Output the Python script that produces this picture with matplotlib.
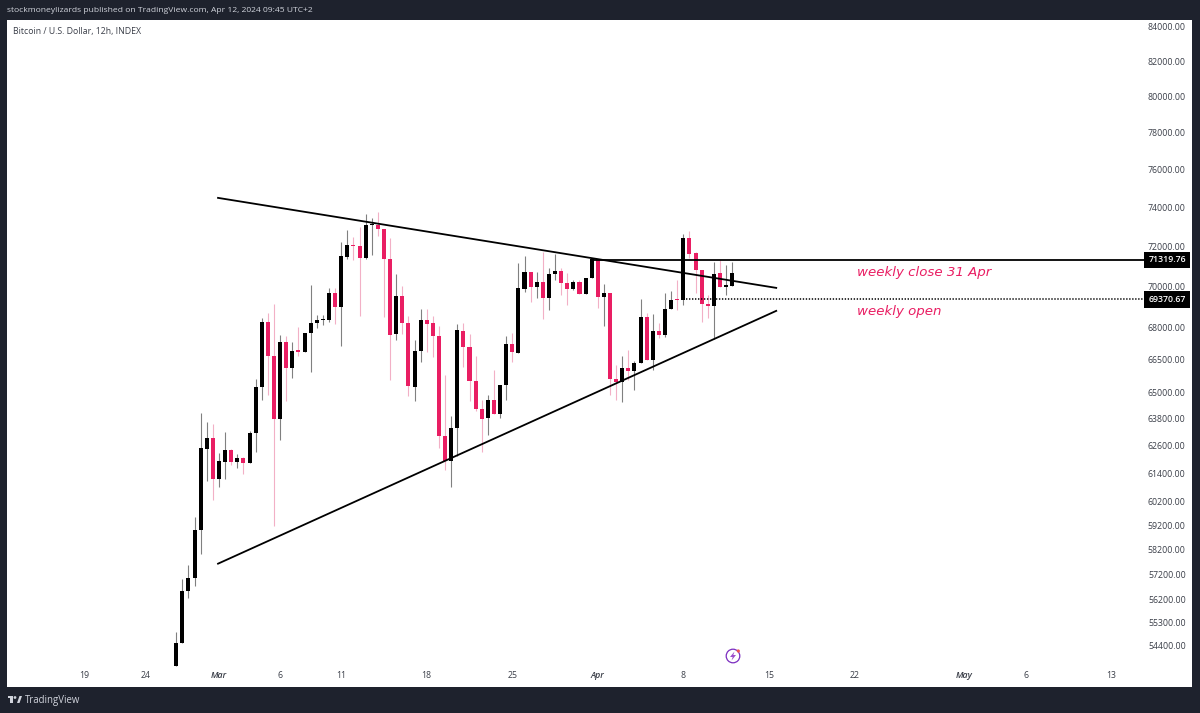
#!/bin/env python

import numpy as np
import matplotlib
matplotlib.use('Agg')
from matplotlib import pyplot as plt
from matplotlib.patches import Circle, Polygon, Rectangle

plt.rcParams['font.family'] = ['Open Sans', 'DejaVu Sans']

# 12h candles, first one is Feb 27 12:00 (bar 0 = Mar 1 00:00)
first_bar = -7
opens = [53640,54500,56510,57040,58980,62470,62930,61160,61900,62420,
         61900,62040,61840,63150,65240,68300,66680,63790,67320,66100,
         66930,66850,67750,68230,68390,68390,69680,69000,71480,72096,
         72046,71411,73110,73104,72880,71375,67700,69530,68250,65240,
         66900,68378,68210,67620,63030,61950,63370,67870,67090,65500,
         64230,63820,64640,64000,65340,67243,66830,69870,70720,70000,
         70230,69450,70620,70790,70194,69880,70230,69630,70410,71360,
         69513,69707,65604,65480,66101,65974,66340,68539,66477,67854,
         67680,68914,69386,69367,72419,71660,70821,69143,69045,70670,
         70000,70050]
highs = [54910,57000,57580,59540,64050,63640,63550,62280,63200,62450,
         62216,62102,63267,65604,68461,68704,69157,67666,67619,67304,
         68056,67760,70065,68621,68620,69950,69922,72232,72837,72469,
         72973,73643,73477,73744,72880,72419,70619,70048,68587,67431,
         68899,68913,68573,68104,65786,63938,68169,68217,67713,66679,
         64651,64878,66018,65346,67619,67774,71189,71542,70735,70735,
         71713,70907,71612,70907,70655,70326,70326,70409,71426,71360,
         70107,69707,66256,66679,66928,66444,69401,68704,68656,68247,
         69678,69805,70326,72620,72787,71713,70821,69596,71209,71325,
         71073,71239]
lows = [53640,54500,56240,56740,58000,61070,60270,60810,61160,61765,
        61634,61384,61840,62304,64650,64878,59170,62860,64592,65636,
        66646,66850,65941,67981,68135,68295,68183,67116,71360,71325,
        68573,71360,71562,72535,68539,65551,67431,67713,64801,64574,
        66411,66834,66618,62496,61546,60819,62129,66148,64574,64120,
        62304,63048,64000,63847,64650,66411,66830,69756,69269,69464,
        68412,68865,70326,69596,69109,69839,69630,69630,70409,68948,
        68100,64846,64651,64547,65551,65105,66340,66477,66021,67511,
        67586,68914,68865,69109,71411,69678,68266,68461,67478,70000,
        69596,70050]
closes = [54500,56530,57040,58980,62480,62930,61160,61910,62420,61900,
          62041,61839,63153,65255,68295,66679,63788,67323,66101,66914,
          66853,67760,68217,68378,68420,69678,69011,71511,72081,72015,
          71411,73089,73140,72872,71375,67680,69532,68247,65273,66914,
          68378,68197,67605,63035,61910,63372,67901,67088,65500,64229,
          63802,64637,64002,65346,67210,66834,69922,70720,69999,70230,
          69449,70619,70786,70194,69902,70230,69630,70409,71375,69513,
          69707,65604,65455,66101,65974,66350,68539,66477,67854,67680,
          68914,69367,69352,72419,71643,70821,69143,69045,70619,70000,
          70060,70685]

price_ticks = [84000,82000,80000,78000,76000,74000,72000,70000,68000,66500,65000,63800,62600,61400,60200,59200,58200,57200,56200,55300,54400]
time_bars = [-22,-12,0,10,20,34,48,62,76,90,104,122,132,146]
time_labels = ['19','24','Mar','6','11','18','25','Apr','8','15','22','May','6','13']
month_labels = ['Mar','Apr','May']

upper_bars = [-0.16, 91.2]
upper_prices = [74500, 69936]
lower_bars = [-0.16, 91.2]
lower_prices = [57620, 68816]
weekly_close = 71319.76
weekly_open = 69370.67
close_start_bar = 61.0
open_start_bar = 76.0

DARK = '#1e222d'
PINK = '#e91e63'
PINK_WICK = '#f2b0c6'
BLACK_WICK = '#808080'

bars = first_bar + np.arange(len(opens))
o = np.array(opens, float)
h = np.array(highs, float)
l = np.array(lows, float)
c = np.array(closes, float)
up = c >= o

fig = plt.figure(figsize=(12, 7.13), dpi=100, facecolor=DARK)
ax = fig.add_axes([7/1200, 1-686.7/713, 1185/1200, 666.7/713], facecolor='white')
ax.set_yscale('log')

ax.vlines(bars[up], l[up], h[up], color=BLACK_WICK, lw=0.8, zorder=2)
ax.vlines(bars[~up], l[~up], h[~up], color=PINK_WICK, lw=0.8, zorder=2)
body_lo = np.minimum(o, c)
body_hi = np.maximum(o, c)
ax.bar(bars, body_hi-body_lo, bottom=body_lo, width=0.66,
       color=['black' if u else PINK for u in up], linewidth=0, zorder=3)

ax.plot(upper_bars, upper_prices, color='black', lw=1.3, zorder=4)
ax.plot(lower_bars, lower_prices, color='black', lw=1.3, zorder=4)

ax.set_xlim(-34.7, 159.25)
ax.set_ylim(52850, 84414)

ax.plot([close_start_bar, 151.5], [weekly_close, weekly_close], color='black', lw=1.3, zorder=4)
ax.plot([open_start_bar, 151.5], [weekly_open, weekly_open], color='black', lw=1.1,
        linestyle=(0, (0.9, 1.06)), zorder=4)

ax.yaxis.tick_right()
ax.set_yticks(price_ticks)
ax.set_yticklabels(['%.2f' % p for p in price_ticks])
ax.yaxis.set_minor_locator(matplotlib.ticker.NullLocator())
ax.tick_params(axis='y', length=0, pad=-4.5, labelsize=6.3, labelcolor='#3a3e48')
for t in ax.get_yticklabels():
    t.set_ha('right')

ax.set_xticks(time_bars)
ax.set_xticklabels(time_labels)
ax.tick_params(axis='x', length=0, pad=-11, labelsize=6.3, labelcolor='#3a3e48')
for t in ax.get_xticklabels():
    if t.get_text() in month_labels:
        t.set_fontstyle('italic')
        t.set_fontweight('semibold')

for s in ax.spines.values():
    s.set_visible(False)

# price badges on the right
for val in (weekly_close, weekly_open):
    ax.text(0.979, val, '%.2f' % val, transform=ax.get_yaxis_transform(), ha='center', va='center',
            color='white', fontsize=6.3, fontweight='semibold', zorder=6,
            bbox=dict(boxstyle='square,pad=0.45', fc='black', ec='none'))

ax.text(104.4, 70700, 'weekly close 31 Apr', color=PINK, fontsize=9.6, style='italic', va='center', ha='left',
        family='DejaVu Sans', zorder=5)
ax.text(104.4, 68800, 'weekly open', color=PINK, fontsize=9.6, style='italic', va='center', ha='left',
        family='DejaVu Sans', zorder=5)
ax.text(0.005, 0.9835, 'Bitcoin / U.S. Dollar, 12h, INDEX', transform=ax.transAxes, color='#3a3e48',
        fontsize=6.3, va='center', ha='left')

# overlay in pixels for the page furniture
page = fig.add_axes([0, 0, 1, 1], facecolor='none')
page.set_xlim(0, 1200)
page.set_ylim(713, 0)
page.axis('off')
page.text(7, 11, 'stockmoneylizards published on TradingView.com, Apr 12, 2024 09:45 UTC+2',
          color='#d1d4dc', fontsize=6.1, va='center', ha='left')
page.text(25, 700, 'TradingView', color='#d1d4dc', fontsize=6.9, va='center', ha='left')
page.add_patch(Rectangle((7.5, 696), 5.5, 2.3, fc='#d1d4dc', ec='none'))
page.add_patch(Rectangle((10, 696), 3, 7, fc='#d1d4dc', ec='none'))
page.add_patch(Circle((15, 697.5), 1.4, fc='#d1d4dc', ec='none'))
page.add_patch(Polygon([[17, 703], [19.5, 696], [22, 696], [19.5, 703]], fc='#d1d4dc', ec='none'))

page.add_patch(Circle((733, 656), 6.8, fc='white', ec='#7b2cbf', lw=0.9))
page.add_patch(Polygon([[734.5, 651.5], [730, 657], [732.7, 657], [731.5, 660.5], [736, 655], [733.3, 655]],
                       fc='#9c4dcc', ec='none'))
page.add_patch(Circle((738.3, 651), 1.6, fc='#ef5350', ec='none'))

fig.savefig('out.png', dpi=100, facecolor=DARK)
